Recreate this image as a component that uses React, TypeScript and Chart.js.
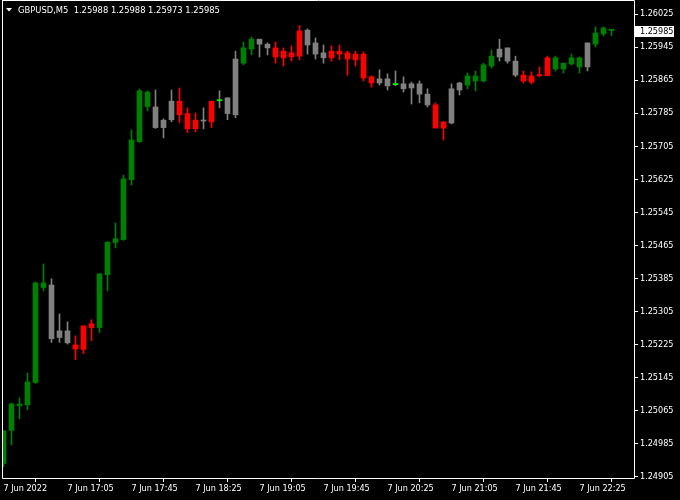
import React, { useEffect, useRef } from "react";
import { Chart, registerables } from "chart.js";

Chart.register(...registerables);

const symbolTitle = "GBPUSD,M5";

const opens = [
  1.24937, 1.25017, 1.25077, 1.25079, 1.25133, 1.25363, 1.25369, 1.25242, 1.25258, 1.25224,
  1.25213, 1.25275, 1.25266, 1.25394, 1.25472, 1.25479, 1.25624, 1.25716, 1.25836, 1.25800,
  1.25750, 1.25769, 1.25814, 1.25784, 1.25747, 1.25768, 1.25764, 1.25815, 1.25822, 1.25781,
  1.25906, 1.25940, 1.25964, 1.25952, 1.25943, 1.25919, 1.25931, 1.25923, 1.25986, 1.25955,
  1.25931, 1.25919, 1.25935, 1.25931, 1.25928, 1.25928, 1.25873, 1.25858, 1.25868, 1.25854,
  1.25856, 1.25846, 1.25856, 1.25831, 1.25805, 1.25749, 1.25761, 1.25841, 1.25853, 1.25863,
  1.25863, 1.25899, 1.25921, 1.25943, 1.25911, 1.25877, 1.25860, 1.25876, 1.25876, 1.25919,
  1.25892, 1.25904, 1.25919, 1.25897, 1.25952, 1.25977, 1.25988,
];
const highs = [
  1.25016, 1.25083, 1.25096, 1.25156, 1.25376, 1.25420, 1.25384, 1.25299, 1.25280, 1.25246,
  1.25270, 1.25285, 1.25396, 1.25473, 1.25519, 1.25635, 1.25744, 1.25843, 1.25839, 1.25841,
  1.25771, 1.25841, 1.25846, 1.25798, 1.25785, 1.25798, 1.25814, 1.25839, 1.25822, 1.25935,
  1.25957, 1.25969, 1.25964, 1.25955, 1.25957, 1.25943, 1.25948, 1.25997, 1.25989, 1.25967,
  1.25950, 1.25948, 1.25950, 1.25935, 1.25935, 1.25933, 1.25875, 1.25890, 1.25880, 1.25887,
  1.25873, 1.25860, 1.25863, 1.25844, 1.25810, 1.25764, 1.25856, 1.25860, 1.25882, 1.25887,
  1.25906, 1.25938, 1.25964, 1.25943, 1.25923, 1.25887, 1.25885, 1.25897, 1.25923, 1.25923,
  1.25906, 1.25928, 1.25921, 1.25955, 1.25994, 1.25994, 1.25988,
];
const lows = [
  1.24929, 1.24982, 1.25045, 1.25067, 1.25131, 1.25355, 1.25230, 1.25230, 1.25226, 1.25188,
  1.25203, 1.25234, 1.25254, 1.25355, 1.25459, 1.25477, 1.25611, 1.25714, 1.25791, 1.25748,
  1.25725, 1.25764, 1.25762, 1.25738, 1.25740, 1.25747, 1.25750, 1.25798, 1.25769, 1.25774,
  1.25902, 1.25926, 1.25921, 1.25926, 1.25906, 1.25899, 1.25911, 1.25914, 1.25928, 1.25916,
  1.25906, 1.25911, 1.25914, 1.25877, 1.25899, 1.25863, 1.25848, 1.25853, 1.25841, 1.25851,
  1.25836, 1.25807, 1.25810, 1.25800, 1.25749, 1.25720, 1.25759, 1.25829, 1.25844, 1.25839,
  1.25860, 1.25894, 1.25911, 1.25906, 1.25873, 1.25858, 1.25856, 1.25873, 1.25875, 1.25887,
  1.25882, 1.25902, 1.25882, 1.25887, 1.25945, 1.25972, 1.25973,
];
const closes = [
  1.25016, 1.25081, 1.25081, 1.25134, 1.25374, 1.25374, 1.25239, 1.25258, 1.25229, 1.25214,
  1.25270, 1.25266, 1.25396, 1.25473, 1.25481, 1.25626, 1.25720, 1.25839, 1.25801, 1.25750,
  1.25768, 1.25814, 1.25781, 1.25747, 1.25768, 1.25766, 1.25814, 1.25816, 1.25784, 1.25916,
  1.25943, 1.25964, 1.25952, 1.25943, 1.25921, 1.25935, 1.25921, 1.25984, 1.25950, 1.25928,
  1.25919, 1.25935, 1.25928, 1.25916, 1.25914, 1.25870, 1.25858, 1.25868, 1.25851, 1.25855,
  1.25844, 1.25856, 1.25831, 1.25805, 1.25749, 1.25764, 1.25844, 1.25858, 1.25875, 1.25875,
  1.25902, 1.25923, 1.25940, 1.25911, 1.25877, 1.25863, 1.25875, 1.25877, 1.25919, 1.25892,
  1.25906, 1.25919, 1.25897, 1.25955, 1.25979, 1.25991, 1.25985,
];
// G = green, N = neutral gray, R = red, L = lime doji (gray wick)
const candleStates = [
  "G", "G", "G", "G", "G", "G", "N", "N", "N", "R",
  "R", "R", "G", "G", "G", "G", "G", "G", "G", "N",
  "N", "N", "R", "R", "R", "N", "R", "L", "N", "N",
  "G", "G", "N", "N", "R", "R", "R", "R", "N", "N",
  "N", "R", "R", "R", "R", "R", "R", "N", "N", "L",
  "N", "N", "N", "N", "R", "R", "N", "N", "G", "G",
  "G", "G", "N", "N", "N", "R", "R", "R", "R", "G",
  "G", "G", "G", "N", "G", "G", "G",
];

const xTickIndex = [0, 8, 16, 24, 32, 40, 48, 56, 64, 72];
const xTickLabels = [
  "7 Jun 2022", "7 Jun 17:05", "7 Jun 17:45", "7 Jun 18:25", "7 Jun 19:05",
  "7 Jun 19:45", "7 Jun 20:25", "7 Jun 21:05", "7 Jun 21:45", "7 Jun 22:25",
];
const yTickLabels = [
  "1.26025", "1.25945", "1.25865", "1.25785", "1.25705", "1.25625", "1.25545", "1.25465",
  "1.25385", "1.25305", "1.25225", "1.25145", "1.25065", "1.24985", "1.24905",
];

const Y_MIN = 1.249018;
const Y_MAX = 1.260589;
const X_MIN = -0.1875;
const X_MAX = 78.8125;

const FONT = '"DejaVu Sans Condensed", "DejaVu Sans", sans-serif';
const BODY_COLORS: Record<string, string> = {
  G: "#008000",
  N: "#808080",
  R: "#ff0000",
  L: "#00ff00",
};
const WICK_COLORS: Record<string, string> = {
  G: "#008000",
  N: "#808080",
  R: "#ff0000",
  L: "#808080",
};

const mtPlugin = {
  id: "mtDecor",
  beforeDraw(chart: any) {
    const c = chart.ctx;
    c.save();
    c.fillStyle = "#000";
    c.fillRect(0, 0, chart.width, chart.height);
    c.restore();
  },
  afterDraw(chart: any) {
    const c = chart.ctx;
    const a = chart.chartArea;
    c.save();
    c.strokeStyle = "#fff";
    c.lineWidth = 1;
    c.beginPath();
    c.moveTo(Math.round(a.left) + 0.5, 0);
    c.lineTo(Math.round(a.left) + 0.5, Math.round(a.bottom) + 0.5);
    c.lineTo(Math.round(a.right) + 0.5, Math.round(a.bottom) + 0.5);
    c.lineTo(Math.round(a.right) + 0.5, 0.5);
    c.lineTo(Math.round(a.left) + 0.5, 0.5);
    c.stroke();

    // header
    const n = closes.length - 1;
    c.fillStyle = "#fff";
    c.beginPath();
    c.moveTo(6, 8);
    c.lineTo(12, 8);
    c.lineTo(9, 11.5);
    c.closePath();
    c.fill();
    c.font = `9.3px ${FONT}`;
    c.textBaseline = "middle";
    c.textAlign = "left";
    const header = `${symbolTitle}  ${opens[n].toFixed(5)} ${highs[n].toFixed(5)} ${lows[n].toFixed(5)} ${closes[n].toFixed(5)}`;
    c.fillText(header, 18, 10.5);

    // current price label
    const ys = chart.scales.y;
    const py = Math.round(ys.getPixelForValue(closes[n]));
    c.fillStyle = "#fff";
    c.fillRect(635, py - 5, 39, 11);
    c.fillStyle = "#000";
    c.font = `9px ${FONT}`;
    c.fillText(closes[n].toFixed(5), 640, py + 0.5);
    c.restore();
  },
};

export default function App() {
  const ref = useRef<HTMLCanvasElement | null>(null);
  useEffect(() => {
    document.body.style.margin = "0";
    document.body.style.background = "#000";
    const canvas = ref.current!;
    const bodies = opens.map((o, i) => ({ x: i, y: [o, closes[i]] }));
    const wicks = lows.map((l, i) => ({ x: i, y: [l, highs[i]] }));
    const bodyColors = candleStates.map((s) => BODY_COLORS[s]);
    const wickColors = candleStates.map((s) => WICK_COLORS[s]);
    const chart = new Chart(canvas, {
      type: "bar",
      data: {
        datasets: [
          {
            data: bodies as any,
            backgroundColor: bodyColors,
            barThickness: 5,
            minBarLength: 1,
            grouped: false,
            order: 0,
            borderWidth: 0,
          } as any,
          {
            data: wicks as any,
            backgroundColor: wickColors,
            barThickness: 1,
            grouped: false,
            order: 1,
            borderWidth: 0,
          } as any,
        ],
      },
      options: {
        animation: false,
        responsive: false,
        devicePixelRatio: 1,
        layout: { padding: { left: 2, top: 0, right: 0, bottom: 0 } },
        plugins: { legend: { display: false }, tooltip: { enabled: false } },
        events: [],
        scales: {
          x: {
            type: "linear",
            position: "bottom",
            min: X_MIN,
            max: X_MAX,
            offset: false,
            border: { display: false },
            grid: {
              display: true,
              drawOnChartArea: false,
              drawTicks: true,
              tickLength: 4,
              color: "#fff",
            },
            ticks: {
              color: "#fff",
              font: { family: FONT, size: 9 },
              align: "start",
              padding: 1,
              maxRotation: 0,
              autoSkip: false,
              callback: (_v: any, i: number) => xTickLabels[i],
            },
            afterBuildTicks: (s: any) => {
              s.ticks = xTickIndex.map((v) => ({ value: v }));
            },
            afterFit: (s: any) => {
              s.height = 22;
              s.paddingLeft = 0;
              s.paddingRight = 0;
            },
          },
          y: {
            type: "linear",
            position: "right",
            min: Y_MIN,
            max: Y_MAX,
            border: { display: false },
            grid: {
              display: true,
              drawOnChartArea: false,
              drawTicks: true,
              tickLength: 4,
              color: "#fff",
            },
            ticks: {
              color: "#fff",
              font: { family: FONT, size: 9 },
              padding: 2,
              autoSkip: false,
              callback: (_v: any, i: number) => yTickLabels[i],
            },
            afterBuildTicks: (s: any) => {
              s.ticks = yTickLabels.map((t) => ({ value: parseFloat(t) }));
            },
            afterFit: (s: any) => {
              s.width = 46;
              s.paddingTop = 0;
              s.paddingBottom = 0;
            },
          },
        },
      } as any,
      plugins: [mtPlugin],
    });
    return () => chart.destroy();
  }, []);
  return (
    <canvas
      ref={ref}
      width={680}
      height={500}
      style={{ display: "block", width: 680, height: 500 }}
    />
  );
}
